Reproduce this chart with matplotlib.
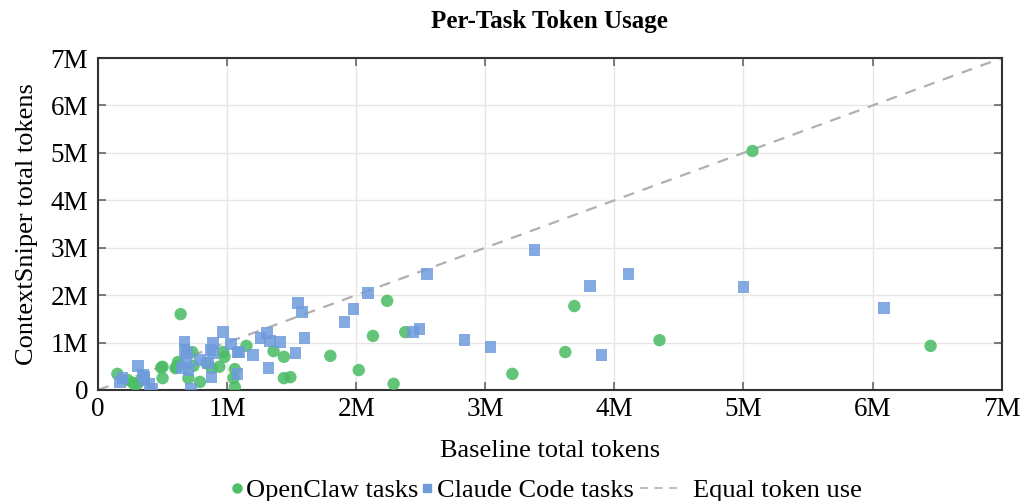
import matplotlib
matplotlib.use("Agg")
import matplotlib.pyplot as plt
from matplotlib.lines import Line2D
from matplotlib.legend_handler import HandlerLine2D

plt.rcParams['font.family'] = ['Liberation Serif', 'DejaVu Serif']

# Values in millions of tokens
openclaw_x = [5.07, 6.45, 4.35, 3.69, 3.62, 3.21, 2.29, 2.24, 2.38, 2.13, 2.02, 1.80,
              1.44, 1.44, 1.49, 1.15, 1.36, 0.97, 0.98, 0.94, 0.84, 0.88, 1.06, 1.05,
              1.06, 0.79, 0.64, 0.73, 0.74, 0.62, 0.60, 0.61, 0.70, 0.50, 0.49,
              0.50, 0.15, 0.23, 0.27, 0.29, 0.31, 0.35]
openclaw_y = [5.04, 0.93, 1.05, 1.77, 0.80, 0.34, 0.13, 1.88, 1.22, 1.14, 0.42, 0.72,
              0.70, 0.25, 0.27, 0.93, 0.82, 0.80, 0.70, 0.49, 0.57, 0.46, 0.44, 0.25,
              0.06, 0.17, 1.60, 0.80, 0.51, 0.59, 0.46, 0.49, 0.25, 0.49, 0.47,
              0.25, 0.34, 0.21, 0.15, 0.11, 0.15, 0.25]

claude_x = [3.38, 2.55, 2.09, 1.98, 1.91, 2.44, 2.49, 2.84, 3.04, 3.81, 3.90, 4.11,
            5.00, 6.09, 1.55, 1.58, 1.60, 1.53, 1.41, 0.97, 1.26, 1.31, 1.33, 1.20,
            1.32, 1.03, 1.08, 1.09, 0.89, 0.87, 0.89, 1.08, 0.88, 0.79, 0.67, 0.67,
            0.69, 0.68, 0.65, 0.70, 0.72, 0.85, 0.31, 0.35, 0.36, 0.36, 0.40, 0.42,
            0.19, 0.17]
claude_y = [2.95, 2.45, 2.05, 1.71, 1.43, 1.22, 1.29, 1.05, 0.91, 2.19, 0.74, 2.45,
            2.17, 1.73, 1.83, 1.64, 1.10, 0.78, 1.01, 1.22, 1.10, 1.20, 1.03, 0.74,
            0.46, 0.97, 0.79, 0.80, 0.99, 0.84, 0.78, 0.34, 0.27, 0.63, 1.02, 0.84,
            0.78, 0.59, 0.46, 0.42, 0.02, 0.57, 0.51, 0.32, 0.27, 0.21, 0.13, 0.02,
            0.25, 0.17]

tick_values = [0, 1, 2, 3, 4, 5, 6, 7]
tick_labels = ['0', '1M', '2M', '3M', '4M', '5M', '6M', '7M']

green = '#4dbd66'
blue = '#6f9bdd'


class WideLineHandler(HandlerLine2D):
    """Line handle drawn in a wider box than the marker handles."""
    def __init__(self, factor, left_pad, right_pad, **kw):
        super().__init__(**kw)
        self.factor = factor
        self.left_pad = left_pad
        self.right_pad = right_pad

    def get_xdata(self, legend, xdescent, ydescent, width, height, fontsize):
        x0 = -xdescent + self.left_pad
        x1 = -xdescent + width - self.right_pad
        return [x0, x1], [0.5 * (x0 + x1)]

    def legend_artist(self, legend, orig_handle, fontsize, handlebox):
        handlebox.width = handlebox.width * self.factor
        return super().legend_artist(legend, orig_handle, fontsize, handlebox)


fig = plt.figure(figsize=(10.21, 5.01), dpi=100)
ax = fig.add_axes([0.096, 0.2216, 0.885, 0.6625])

ax.plot([0, 7], [0, 7], linestyle=(0, (5, 4)), color='#b0b0b0', lw=1.6, zorder=2)
ax.scatter(openclaw_x, openclaw_y, s=80, marker='o', color=green, alpha=0.88,
           edgecolors='none', zorder=3)
ax.scatter(claude_x, claude_y, s=70, marker='s', color=blue, alpha=0.85,
           edgecolors='none', zorder=3)

ax.set_xlim(0, 7)
ax.set_ylim(0, 7)
ax.set_xticks(tick_values)
ax.set_yticks(tick_values)
ax.set_xticklabels(tick_labels)
ax.set_yticklabels(tick_labels)
ax.tick_params(direction='in', length=6, width=1.2, color='#666666',
               labelsize=19.5, top=True, right=True)
ax.tick_params(axis='x', pad=5)
ax.tick_params(axis='y', pad=7)
ax.grid(True, color='#e6e6e6', lw=1.0, zorder=0)
ax.set_axisbelow(True)
for sp in ax.spines.values():
    sp.set_linewidth(1.5)
    sp.set_color('#333333')

ax.set_xlabel('Baseline total tokens', fontsize=19, labelpad=13)
ax.set_ylabel('ContextSniper total tokens', fontsize=19, labelpad=9)
ax.set_title('Per-Task Token Usage', fontsize=18, fontweight='bold', pad=22)

h_open = Line2D([], [], marker='o', color=green, linestyle='none', markersize=6.5)
h_claude = Line2D([], [], marker='s', color=blue, linestyle='none', markersize=6)
h_equal = Line2D([], [], color='#b8b8b8', linestyle=(0, (4.5, 3.5)), lw=1.3)
labels = ['OpenClaw tasks', 'Claude Code tasks', 'Equal token use']
fig.legend([h_open, h_claude, h_equal], labels, loc='lower center',
           bbox_to_anchor=(0.5345, -0.05), ncol=3, frameon=False, fontsize=19,
           handlelength=0.5, handletextpad=0.1, columnspacing=0.1,
           handler_map={h_equal: WideLineHandler(4.08, 2.9, 7.0)})

fig.savefig('out.png', dpi=100)
